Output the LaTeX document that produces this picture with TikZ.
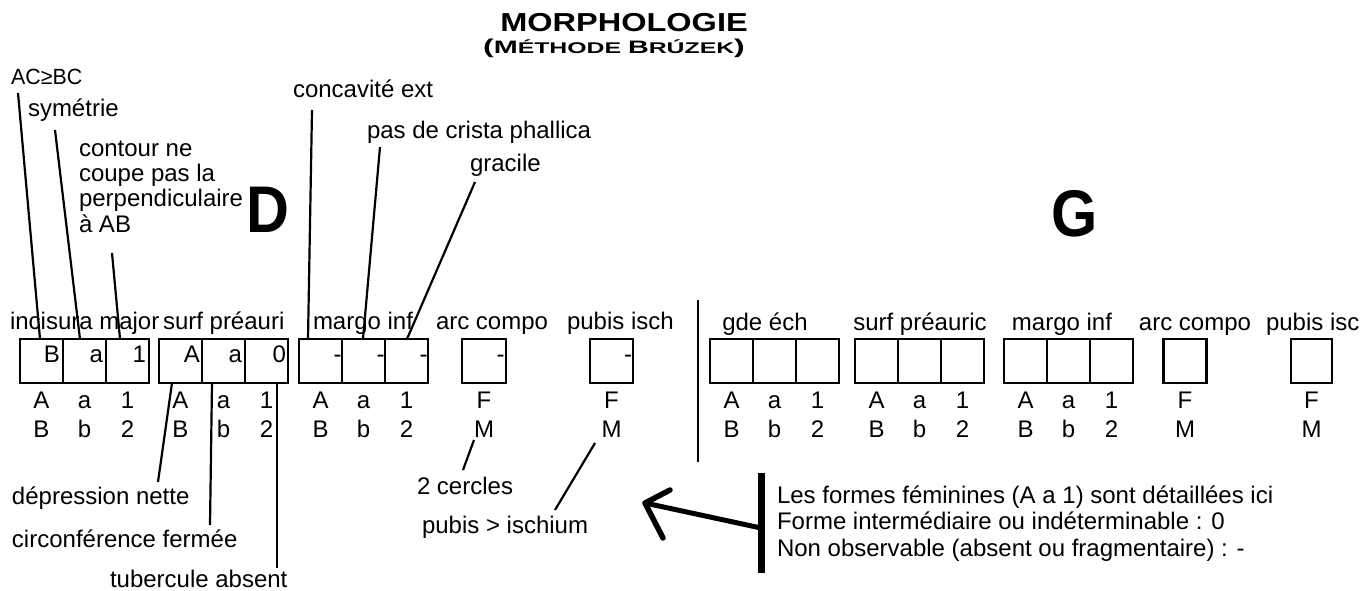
\documentclass[tikz,border=0pt]{standalone}
\usepackage{fontspec}
\setmainfont{Liberation Sans}
\usepackage{graphicx}
\begin{document}
\begin{tikzpicture}[x=1pt,y=-1pt,
  lbl/.style={font=\fontsize{24}{25}\selectfont, inner sep=0pt, outer sep=0pt},
  cell/.style={draw, line width=2.5pt, minimum width=43pt, minimum height=44pt, inner sep=0pt, outer sep=0pt},
  wide/.style={cell, minimum width=44pt},
  leader/.style={line width=2.2pt},
  val/.style={lbl, anchor=base east},
  big/.style={font=\fontsize{66}{66}\selectfont\bfseries, inner sep=0pt, anchor=base},
]
\useasboundingbox (0,0) rectangle (1362,591);

% title
\node[font=\fontsize{26}{26}\selectfont\bfseries, inner sep=0pt, anchor=base] (title) at (624,32) {\scalebox{1.25}[1]{MORPHOLOGIE}};
\node[font=\bfseries, inner sep=0pt, anchor=base] (subtitle) at (614,54) {\scalebox{1.6}[1]{\fontsize{20}{20}\selectfont(\fontsize{18}{18}\selectfont M\fontsize{15.5}{16}\selectfont ÉTHODE \fontsize{18}{18}\selectfont B\fontsize{15.5}{16}\selectfont RÚZEK\fontsize{20}{20}\selectfont)}};

\node[big] (D) at (268,232) {\scalebox{0.9}[1]{D}};
\node[big] (G) at (1075,236) {\scalebox{0.9}[1]{G}};

% cells
\foreach \n/\x in {a1/41.5,a2/84.5,a3/127.5,b1/180.5,b2/223.5,b3/266.5,c1/320.5,c2/363.5,c3/406.5,e1/611.5,
                   f1/731.5,f2/774.5,f3/817.5,g1/876.5,g2/919.5,g3/962.5,h1/1025.5,h2/1068.5,h3/1111.5,i1/1185}
  \node[cell] (\n) at (\x,361) {};
\node[wide] (d1) at (484,361) {};
\node[cell, minimum width=41pt] (j1) at (1311.5,361) {};

% values in the left boxes
\node[val] (va1) at (60,362) {B};
\node[val] (va2) at (103,362) {a};
\node[val] (va3) at (146,362) {1};
\node[val] (vb1) at (200,362) {A};
\node[val] (vb2) at (242,362) {a};
\node[val] (vb3) at (286,362) {0};
\node[val] (vc1) at (341.5,362) {-};
\node[val] (vc2) at (384.5,362) {-};
\node[val] (vc3) at (427.5,362) {-};
\node[val] (vd1) at (504.5,362) {-};
\node[val] (ve1) at (632,362) {-};

% letters below triples
\foreach \g/\x in {a/41.5,b/180.5,c/320.5,f/731.5,g/876.5,h/1025.5}{
  \node[lbl, anchor=base] (t-\g-A) at (\x,408) {A};
  \node[lbl, anchor=base] (t-\g-a) at ({\x+43},408) {a};
  \node[lbl, anchor=base] (t-\g-1) at ({\x+86},408) {1};
  \node[lbl, anchor=base] (t-\g-B) at (\x,437) {B};
  \node[lbl, anchor=base] (t-\g-b) at ({\x+43},437) {b};
  \node[lbl, anchor=base] (t-\g-2) at ({\x+86},437) {2};
}
\foreach \g/\x in {d/484,e/611.5,i/1185,j/1311.5}{
  \node[lbl, anchor=base] (t-\g-F) at (\x,408) {F};
  \node[lbl, anchor=base] (t-\g-M) at (\x,437) {M};
}

% headers
\node[lbl, anchor=base west] (hinc) at (10,329) {incisura major};
\node[lbl, anchor=base west] (hsurf) at (163,329) {surf préauri};
\node[lbl, anchor=base west] (hmargo) at (313,329) {margo inf};
\node[lbl, anchor=base west] (harc) at (436,329) {arc compo};
\node[lbl, anchor=base west] (hpub) at (567,329) {pubis isch};
\node[lbl, anchor=base] (hgde) at (765,330) {gde éch};
\node[lbl, anchor=base] (hsurf2) at (920,330) {surf préauric};
\node[lbl, anchor=base] (hmargo2) at (1062,330) {margo inf};
\node[lbl, anchor=base] (harc2) at (1195,330) {arc compo};
\node[lbl, anchor=base west] (hpub2) at (1266,330) {pubis isc};

% top labels
\node[font=\fontsize{22}{22}\selectfont, inner sep=0pt, anchor=base west] (lac) at (11,85) {\scalebox{0.97}[1]{AC≥BC}};
\node[lbl, anchor=base west] (lsym) at (28,117) {symétrie};
\node[lbl, anchor=base west] (lcont) at (79,232) {\begin{tabular}[b]{@{}l@{}}contour ne\\coupe pas la\\perpendiculaire\\à AB\end{tabular}};
\node[lbl, anchor=base west] (lconc) at (293,98) {concavité ext};
\node[lbl, anchor=base west] (lpas) at (367,139) {pas de crista phallica};
\node[lbl, anchor=base west] (lgra) at (470,171) {gracile};

% bottom labels
\node[lbl, anchor=base west] (ldep) at (12,504) {dépression nette};
\node[lbl, anchor=base west] (lcirc) at (12,547) {circonférence fermée};
\node[lbl, anchor=base west] (ltub) at (110,587) {tubercule absent};
\node[lbl, anchor=base west] (lcer) at (417,494) {2 cercles};
\node[lbl, anchor=base west] (lpubis) at (422,533) {pubis > ischium};

% leader ends at labels
\coordinate (kac) at (18,93);
\coordinate (ksym) at (55,130);
\coordinate (kcont) at (112,253);
\coordinate (kconc) at (312,110);
\coordinate (kpas) at (380,147);
\coordinate (kgra) at (475,182);
\coordinate (kdep) at (158,482);
\coordinate (kcirc) at (210,525);
\coordinate (ktub) at (277,568);
\coordinate (kcer) at (463,470);
\coordinate (kcerM) at (474,440);
\coordinate (kpub) at (555,510);
\coordinate (kpubM) at (595,443);

\draw[leader] (kac) -- ([xshift=-1.5pt]a1.north);
\draw[leader] (ksym) -- ([xshift=-4.5pt]a2.north);
\draw[leader] (kcont) -- ([xshift=-7.5pt]a3.north);
\draw[leader] (kconc) -- ([xshift=-12.5pt]c1.north);
\draw[leader] (kpas) -- ([xshift=-0.5pt]c2.north);
\draw[leader] (kgra) -- ([xshift=0.5pt]c3.north);
\draw[leader] ([xshift=-8.5pt]b1.south) -- (kdep);
\draw[leader] ([xshift=-11.5pt]b2.south) -- (kcirc);
\draw[leader] ([xshift=10.5pt]b3.south) -- (ktub);
\draw[leader] (kcerM) -- (kcer);
\draw[leader] (kpubM) -- (kpub);

% separator
\coordinate (septop) at (698,300);
\coordinate (sepbot) at (698,462);
\draw[line width=2.5pt] (septop) -- (sepbot);

% legend
\coordinate (bartop) at (761,473);
\coordinate (barbot) at (761,573);
\coordinate (barmid) at (761,528);
\coordinate (tip) at (645,503);
\coordinate (arm1) at (670,490);
\coordinate (arm2) at (663,538);
\draw[line width=7pt] (bartop) -- (barbot);
\draw[line width=5pt, line cap=round] (barmid) -- (tip);
\draw[line width=5.5pt, line cap=round, line join=round] (arm1) -- (tip) -- (arm2);
\node[lbl, anchor=base west, font=\fontsize{24}{26.5}\selectfont] (legend) at (777,556) {\begin{tabular}[b]{@{}l@{}}Les formes féminines (A a 1) sont détaillées ici\\Forme intermédiaire ou indéterminable : 0\\Non observable (absent ou fragmentaire) : -\end{tabular}};
\end{tikzpicture}
\end{document}
